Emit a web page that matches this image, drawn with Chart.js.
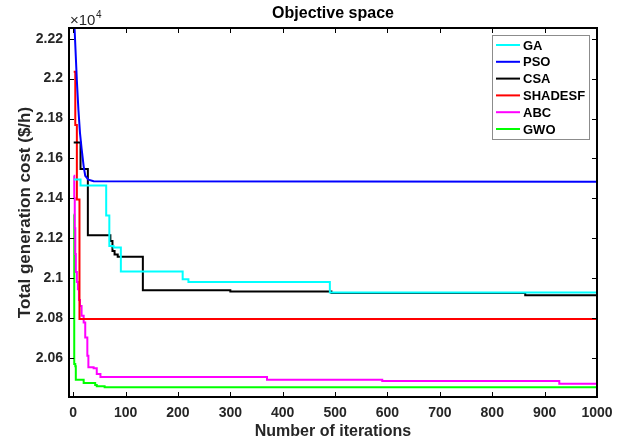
<!DOCTYPE html>
<html>
<head>
<meta charset="utf-8">
<script src="https://cdn.jsdelivr.net/npm/chart.js@4.4.1/dist/chart.umd.min.js"></script>
<style>
  html, body { margin: 0; padding: 0; background: #fff; }
  #wrap { width: 624px; height: 442px; }
</style>
</head>
<body>
<div id="wrap"><canvas id="convChart" width="624" height="442"></canvas></div>
<script>
// Tick values (cost is plotted in $/h, labels shown as x10^4)
const xTicks = [0, 100, 200, 300, 400, 500, 600, 700, 800, 900, 1000];
const yTicks = [20600, 20800, 21000, 21200, 21400, 21600, 21800, 22000, 22200];

// Series names and colours
const seriesNames = ['GA', 'PSO', 'CSA', 'SHADESF', 'ABC', 'GWO'];
const seriesColors = ['#00ffff', '#0000ff', '#000000', '#ff0000', '#ff00ff', '#00ff00'];

// Convergence curves: iteration where the best cost changes, and the new cost
const gaIter = [1, 14, 63, 69, 77, 91, 209, 220, 490, 1000];
const gaCost = [21494, 21464, 21313, 21160, 21153, 21032, 20994, 20980, 20927, 20927];

const psoIter = [1, 3, 5, 7, 10, 13, 16, 20, 23, 29, 39, 1000];
const psoCost = [22330, 22230, 22110, 21990, 21843, 21727, 21650, 21560, 21513, 21493, 21485, 21483];

const csaIter = [1, 14, 28, 71, 75, 79, 85, 133, 300, 493, 863, 1000];
const csaCost = [21680, 21547, 21215, 21185, 21135, 21118, 21107, 20939, 20932, 20925, 20913, 20913];

const shadeIter = [1, 4, 7, 12, 1000];
const shadeCost = [22035, 21768, 21394, 20794, 20794];

const abcIter = [1, 2, 3, 4, 5, 7, 9, 11, 13, 16, 20, 23, 27, 29, 39, 45, 52, 370, 590, 928, 1000];
const abcCost = [21513, 21400, 21250, 21120, 21030, 20980, 20944, 20890, 20860, 20810, 20777, 20702, 20610, 20552, 20547, 20518, 20503, 20490, 20483, 20470, 20470];

const gwoIter = [1, 2, 4, 5, 20, 42, 45, 60, 1000];
const gwoCost = [21318, 20569, 20557, 20490, 20473, 20463, 20457, 20452, 20450];

const FONT = 'Liberation Sans, Arial, Helvetica, sans-serif';

function toPoints(iters, costs) {
  return iters.map((x, i) => ({ x: x, y: costs[i] }));
}

const curves = [
  { it: gaIter, c: gaCost, stepped: 'before' },
  { it: psoIter, c: psoCost, stepped: false },
  { it: csaIter, c: csaCost, stepped: 'before' },
  { it: shadeIter, c: shadeCost, stepped: 'before' },
  { it: abcIter, c: abcCost, stepped: 'before' },
  { it: gwoIter, c: gwoCost, stepped: 'before' }
];

const datasets = curves.map((s, i) => ({
  label: seriesNames[i],
  data: toPoints(s.it, s.c),
  borderColor: seriesColors[i],
  backgroundColor: seriesColors[i],
  borderWidth: 2,
  pointRadius: 0,
  stepped: s.stepped,
  tension: 0,
  fill: false
}));

// box around the axes with inward ticks on all four sides, title and the x10^4 label
const framePlugin = {
  id: 'frame',
  afterDatasetsDraw(chart) {
    const { ctx, chartArea: a, scales } = chart;
    ctx.save();
    ctx.strokeStyle = '#000';
    ctx.lineWidth = 1;
    ctx.beginPath();
    xTicks.forEach(v => {
      const px = Math.round(scales.x.getPixelForValue(v)) + 0.5;
      ctx.moveTo(px, a.bottom); ctx.lineTo(px, a.bottom - 5);
      ctx.moveTo(px, a.top); ctx.lineTo(px, a.top + 5);
    });
    yTicks.forEach(v => {
      const py = Math.round(scales.y.getPixelForValue(v)) + 0.5;
      ctx.moveTo(a.left, py); ctx.lineTo(a.left + 5, py);
      ctx.moveTo(a.right, py); ctx.lineTo(a.right - 5, py);
    });
    ctx.stroke();
    ctx.lineWidth = 2;
    ctx.strokeRect(a.left, a.top, a.right - a.left, a.bottom - a.top);

    // title centred over the axes
    ctx.fillStyle = '#000';
    ctx.font = 'bold 16px ' + FONT;
    ctx.textAlign = 'center';
    ctx.textBaseline = 'middle';
    ctx.fillText('Objective space', (a.left + a.right) / 2, 14);

    ctx.fillStyle = '#262626';
    ctx.textBaseline = 'alphabetic';
    ctx.textAlign = 'left';
    ctx.font = '15px ' + FONT;
    ctx.fillText('\u00d710', a.left + 1, a.top - 3);
    const w = ctx.measureText('\u00d710').width;
    ctx.font = '10px ' + FONT;
    ctx.fillText('4', a.left + 1 + w + 0.5, a.top - 10);
    ctx.restore();
  }
};

// legend box in the upper right corner of the axes
const legendPlugin = {
  id: 'boxLegend',
  afterDraw(chart) {
    const { ctx, chartArea: a } = chart;
    const x0 = a.right - 105, y0 = a.top + 7, w = 97, h = 104;
    ctx.save();
    ctx.fillStyle = '#fff';
    ctx.fillRect(x0, y0, w, h);
    ctx.strokeStyle = '#8c8c8c';
    ctx.lineWidth = 1;
    ctx.strokeRect(x0 + 0.5, y0 + 0.5, w, h);
    ctx.font = 'bold 13px ' + FONT;
    ctx.textBaseline = 'middle';
    ctx.textAlign = 'left';
    chart.data.datasets.forEach((ds, i) => {
      const y = y0 + 10 + i * 16.8;
      ctx.strokeStyle = ds.borderColor;
      ctx.lineWidth = 2;
      ctx.beginPath();
      ctx.moveTo(x0 + 4, y);
      ctx.lineTo(x0 + 28, y);
      ctx.stroke();
      ctx.fillStyle = '#000';
      ctx.fillText(ds.label, x0 + 31, y + 1);
    });
    ctx.restore();
  }
};

const ctx = document.getElementById('convChart').getContext('2d');
const convChart = new Chart(ctx, {
  type: 'line',
  data: { datasets: datasets },
  options: {
    responsive: false,
    animation: false,
    layout: { padding: { left: 0, right: 27, top: 28, bottom: 0 } },
    plugins: {
      legend: { display: false },
      tooltip: { enabled: false },
      title: { display: false }
    },
    scales: {
      x: {
        type: 'linear',
        min: -8,
        max: 1000,
        afterBuildTicks: s => { s.ticks = xTicks.map(v => ({ value: v })); },
        afterFit: s => { s.height = 45; },
        grid: { display: false, drawTicks: false },
        border: { display: false },
        ticks: {
          color: '#262626',
          font: { family: FONT, size: 14, weight: 'bold' },
          padding: 8,
          maxRotation: 0,
          autoSkip: false,
          callback: v => String(v)
        },
        title: {
          display: true,
          text: 'Number of iterations',
          color: '#262626',
          font: { family: FONT, size: 16, weight: 'bold' },
          padding: { top: 0, bottom: 1 }
        }
      },
      y: {
        type: 'linear',
        min: 20403,
        max: 22254,
        afterBuildTicks: s => { s.ticks = yTicks.map(v => ({ value: v })); },
        afterFit: s => { s.width = 69; },
        grid: { display: false, drawTicks: false },
        border: { display: false },
        ticks: {
          color: '#262626',
          font: { family: FONT, size: 14, weight: 'bold' },
          padding: 6,
          callback: v => String(+(v / 1e4).toFixed(2))
        },
        title: {
          display: true,
          text: 'Total generation cost ($/h)',
          color: '#262626',
          font: { family: FONT, size: 17, weight: 'bold' },
          padding: { top: 15, bottom: 0 }
        }
      }
    }
  },
  plugins: [framePlugin, legendPlugin]
});
</script>
</body>
</html>
